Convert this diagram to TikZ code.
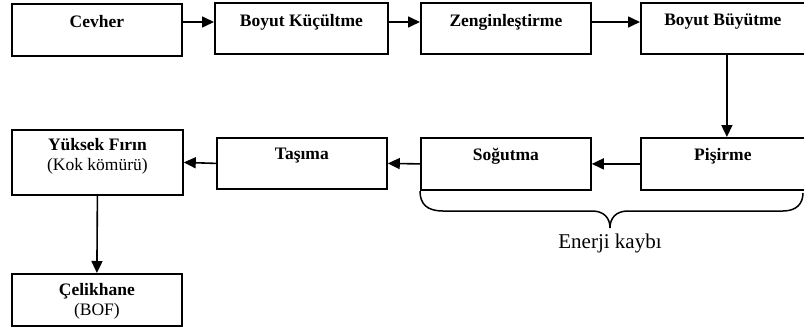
\documentclass[tikz,border=0pt]{standalone}
\usepackage{fontspec}
\setmainfont{Liberation Serif}
\usetikzlibrary{arrows.meta}
\begin{document}
\begin{tikzpicture}[x=1pt,y=-1pt,
  box/.style={draw, line width=1.8pt, inner sep=0pt, anchor=north west},
  lbl/.style={font=\bfseries\fontsize{17.5}{20}\selectfont, align=center, inner sep=0pt},
  arr/.style={line width=1.6pt, -{Triangle[length=12pt,width=11pt]}}]
\useasboundingbox (0,0) rectangle (804,332);
% row 1
\node[box, minimum width=170pt, minimum height=52pt] (b1) at (11,3) {};
\node[box, minimum width=173pt, minimum height=51pt] (b2) at (214,2) {};
\node[box, minimum width=170pt, minimum height=51pt] (b3) at (420,2) {};
\node[box, minimum width=164pt, minimum height=51pt] (b4) at (640,2) {};
\node[lbl] (t1) at ([yshift=-19pt]b1.north) {Cevher};
\node[lbl] (t2) at ([yshift=-20pt]b2.north) {Boyut Küçültme};
\node[lbl] (t3) at ([yshift=-20pt]b3.north) {Zenginleştirme};
\node[lbl] (t4) at ([yshift=-20pt]b4.north) {Boyut Büyütme};
% row 2
\node[box, minimum width=164pt, minimum height=52pt] (b5) at (640,137) {};
\node[box, minimum width=170pt, minimum height=52pt] (b6) at (420,137) {};
\node[box, minimum width=170pt, minimum height=51pt] (b7) at (216,137) {};
\node[box, minimum width=171pt, minimum height=65pt] (b8) at (11,129) {};
\node[lbl] (t5) at ([yshift=-19pt]b5.north) {Pişirme};
\node[lbl] (t6) at ([yshift=-19pt]b6.north) {Soğutma};
\node[lbl] (t7) at ([yshift=-19pt]b7.north) {Taşıma};
\node[lbl] (t8) at ([yshift=-27.5pt]b8.north) {Yüksek Fırın\\{\mdseries (Kok kömürü)}};
% row 3
\node[box, minimum width=170pt, minimum height=52pt] (b9) at (11,273) {};
\node[lbl] (t9) at ([yshift=-28.5pt]b9.north) {Çelikhane\\{\mdseries (BOF)}};
% connectors
\draw[arr] (b1.east |- 0,22) -- (b2.west |- 0,22);
\draw[arr] (b2.east |- 0,22) -- (b3.west |- 0,22);
\draw[arr] (b3.east |- 0,22) -- (b4.west |- 0,22);
\draw[arr] ([xshift=4pt]b4.south) -- ([xshift=4pt]b5.north);
\draw[arr] (b5.west) -- (b6.east);
\draw[arr] (b6.west) -- (b7.east);
\draw[arr] (b7.west) -- (b8.east);
\draw[arr] (b8.south) -- (b9.north);
% brace
\draw[line width=1.5pt] (420,191) .. controls (420,204) and (427,211) .. (443,211)
  -- (592,211) .. controls (604,211) and (610,218) .. (610,228)
  .. controls (610,218) and (616,211) .. (628,211)
  -- (783,211) .. controls (796,211) and (803,204) .. (803,193);
\node[font=\fontsize{21}{24}\selectfont, inner sep=0pt] (e) at (610,243) {Enerji kaybı};
\end{tikzpicture}
\end{document}
